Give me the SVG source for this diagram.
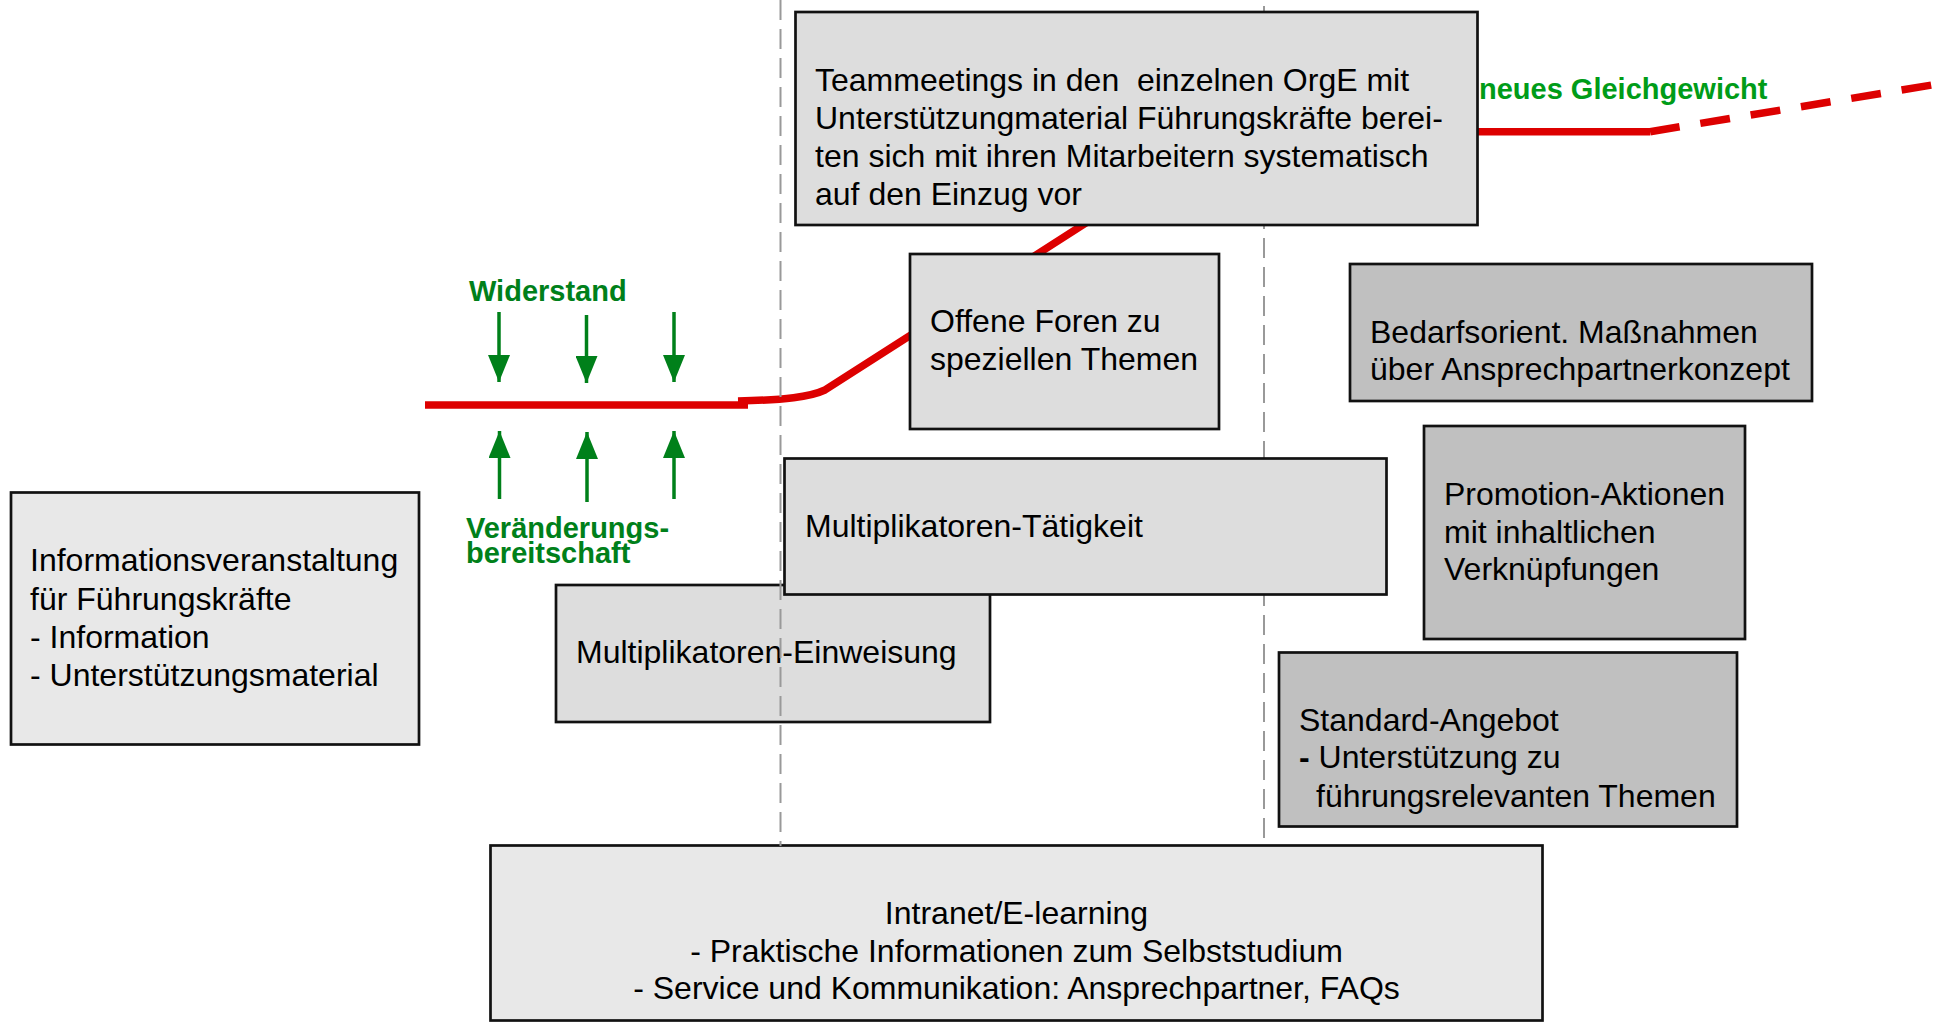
<svg xmlns="http://www.w3.org/2000/svg" width="1937" height="1025" viewBox="0 0 1937 1025">
<defs>
<style>
.box{stroke:#111;stroke-width:2.7}
.l1{fill:#e8e8e8}
.l2{fill:#dddddd}
.d{fill:#c0c0c0}
.t{font-family:"Liberation Sans",Arial,sans-serif;font-size:32px;fill:#000}
.g{font-family:"Liberation Sans",Arial,sans-serif;font-size:29px;font-weight:bold;fill:#00801a}
.sep{stroke:#999;stroke-width:2;stroke-dasharray:20 9;fill:none}
.arr{stroke:#00801a;stroke-width:3.5;fill:none;marker-end:url(#ah)}
</style>
<marker id="ah" viewBox="0 0 27 22" refX="27" refY="11" markerWidth="27" markerHeight="22" markerUnits="userSpaceOnUse" orient="auto">
<path d="M0,0 L27,11 L0,22 Z" fill="#00801a"/>
</marker>
</defs>
<rect width="1937" height="1025" fill="#fff"/>

<g id="connectors">
<path d="M425,405 L748,405" fill="none" stroke="#dd0000" stroke-width="7.5"/>
<path d="M738,401 C785,400 810,397 825,390 L1100,214 L1180,150 L1250,131.7 L1650,131.7" fill="none" stroke="#dd0000" stroke-width="7.5"/>
<path d="M1650,131.7 L1932,85" fill="none" stroke="#dd0000" stroke-width="7.5" stroke-dasharray="30 21"/>
</g>

<g id="info">
<rect class="box l1" x="11" y="492.5" width="408" height="252"/>
<text class="t" x="30" y="571">Informationsveranstaltung</text>
<text class="t" x="30" y="609.5">für Führungskräfte</text>
<text class="t" x="30" y="648">- Information</text>
<text class="t" x="30" y="686">- Unterstützungsmaterial</text>
</g>

<g id="intranet">
<rect class="box l1" x="490.5" y="845.5" width="1052" height="175"/>
<text class="t" x="1016.5" y="924" text-anchor="middle">Intranet/E-learning</text>
<text class="t" x="1016.5" y="961.7" text-anchor="middle">- Praktische Informationen zum Selbststudium</text>
<text class="t" x="1016.5" y="999.3" text-anchor="middle">- Service und Kommunikation: Ansprechpartner, FAQs</text>
</g>

<g id="einweisung">
<rect class="box l2" x="556" y="585" width="434" height="137"/>
<text class="t" x="576" y="662.7">Multiplikatoren-Einweisung</text>
</g>

<g id="phases">
<line class="sep" x1="780.5" y1="0" x2="780.5" y2="846"/>
<line class="sep" x1="1264" y1="6" x2="1264" y2="846"/>
</g>

<g id="taetigkeit">
<rect class="box l2" x="784.5" y="458.5" width="602" height="136"/>
<text class="t" x="805" y="536.7">Multiplikatoren-Tätigkeit</text>
</g>

<g id="foren">
<rect class="box l2" x="910" y="254" width="309" height="175"/>
<text class="t" x="930" y="332">Offene Foren zu</text>
<text class="t" x="930" y="370">speziellen Themen</text>
</g>

<g id="teammeetings">
<rect class="box l2" x="795.5" y="12" width="682" height="213"/>
<text class="t" x="815" y="90.5" xml:space="preserve">Teammeetings in den  einzelnen OrgE mit</text>
<text class="t" x="815" y="128.5">Unterstützungmaterial Führungskräfte berei-</text>
<text class="t" x="815" y="166.5">ten sich mit ihren Mitarbeitern systematisch</text>
<text class="t" x="815" y="204.5">auf den Einzug vor</text>
</g>

<g id="bedarf">
<rect class="box d" x="1350" y="264" width="462" height="137"/>
<text class="t" x="1370" y="342.7">Bedarfsorient. Maßnahmen</text>
<text class="t" x="1370" y="380">über Ansprechpartnerkonzept</text>
</g>

<g id="promotion">
<rect class="box d" x="1424" y="426" width="321" height="213"/>
<text class="t" x="1444" y="505">Promotion-Aktionen</text>
<text class="t" x="1444" y="542.7">mit inhaltlichen</text>
<text class="t" x="1444" y="580">Verknüpfungen</text>
</g>

<g id="standard">
<rect class="box d" x="1279" y="652.5" width="458" height="174"/>
<text class="t" x="1299" y="731">Standard-Angebot</text>
<text class="t" x="1299" y="768.3"><tspan font-weight="bold">-</tspan> Unterstützung zu</text>
<text class="t" x="1316" y="806.7">führungsrelevanten Themen</text>
</g>

<g id="forces">
<line class="arr" x1="499" y1="312" x2="499" y2="382"/>
<line class="arr" x1="586.5" y1="315" x2="586.5" y2="383"/>
<line class="arr" x1="674" y1="312" x2="674" y2="382"/>
<line class="arr" x1="499.5" y1="499" x2="499.5" y2="431"/>
<line class="arr" x1="587" y1="502" x2="587" y2="432"/>
<line class="arr" x1="674" y1="499" x2="674" y2="431"/>
</g>

<g id="labels">
<text class="g" x="469" y="300.7">Widerstand</text>
<text class="g" x="466" y="538.3">Veränderungs-</text>
<text class="g" x="466" y="562.7">bereitschaft</text>
<text class="g" x="1479" y="99.3" style="fill:#009c18">neues Gleichgewicht</text>
</g>
</svg>
